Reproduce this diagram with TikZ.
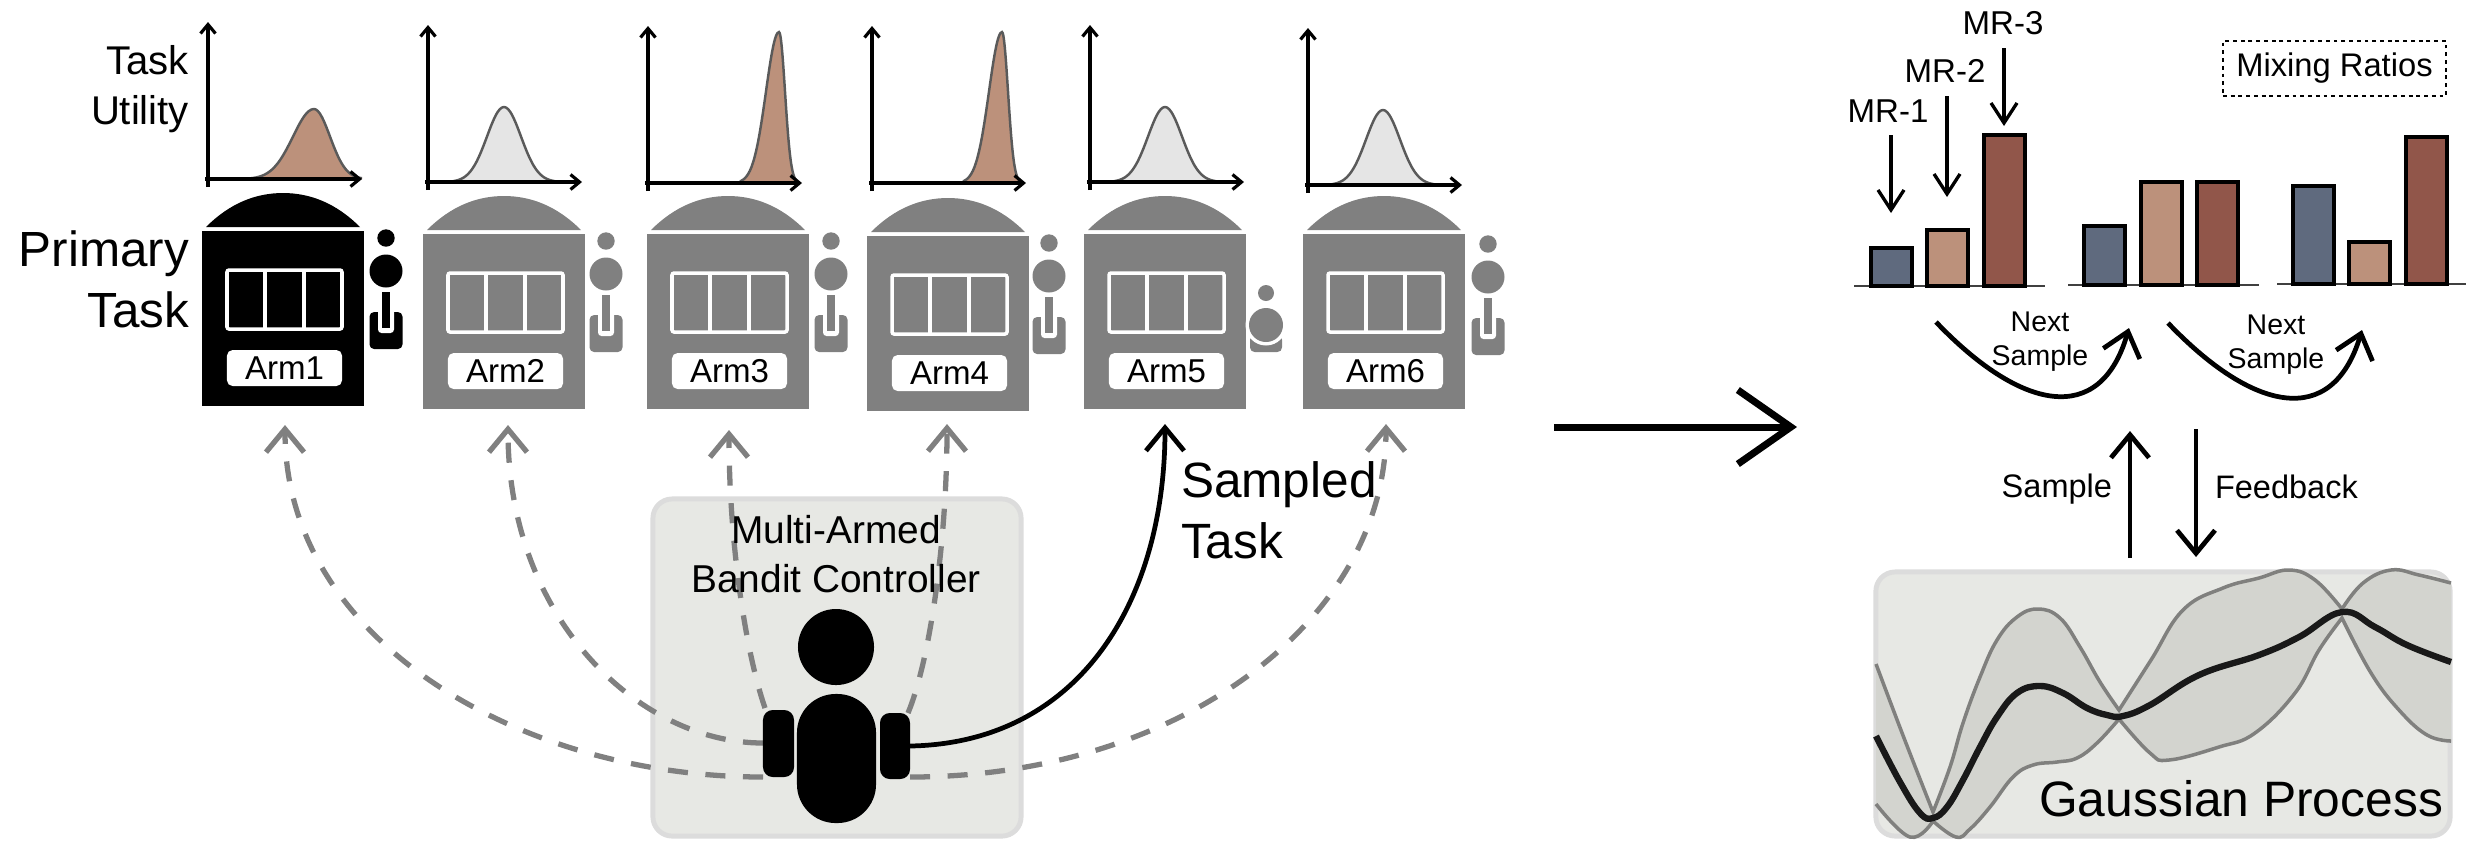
\documentclass[tikz,border=0pt]{standalone}
\usepackage{fontspec}
\setmainfont{Liberation Sans}
\usetikzlibrary{arrows.meta,positioning,calc,shapes.geometric}
\definecolor{armgray}{RGB}{128,128,128}
\definecolor{linkgray}{RGB}{128,128,128}
\definecolor{bellbrown}{RGB}{188,145,123}
\definecolor{bellgray}{RGB}{229,229,229}
\definecolor{belledge}{RGB}{90,90,90}
\definecolor{panelfill}{RGB}{231,232,228}
\definecolor{paneledge}{RGB}{220,220,220}
\definecolor{gpband}{RGB}{211,212,207}
\definecolor{gpedge}{RGB}{128,128,126}
\definecolor{mrblue}{RGB}{95,106,126}
\definecolor{mrtan}{RGB}{188,145,123}
\definecolor{mrbrown}{RGB}{145,86,74}
\tikzset{
  text label/.style={inner sep=0pt, outer sep=0pt},
  arm label/.style={
    fill=white, rounded corners=1.6pt, inner sep=0pt,
    minimum width=1.15cm, minimum height=0.36cm,
    font=\fontsize{9.4}{11}\selectfont,
  },
  arm body/.style={
    rectangle, inner sep=0pt, outer sep=0pt, anchor=north west,
    minimum width=1.62cm, minimum height=1.75cm,
  },
  panel box/.style={
    draw=paneledge, fill=panelfill, line width=1.4pt,
    rounded corners=5.5pt, inner sep=0pt, outer sep=0pt,
  },
  person part/.style={
    fill=black, inner sep=0pt, outer sep=0pt,
  },
  open arrow/.style={
    -{Straight Barb[length=0.23cm,width=0.38cm]},
    line width=1.35pt,
  },
  axis arrow/.style={
    -{Straight Barb[length=0.09cm,width=0.15cm]},
    line width=0.9pt,
  },
  thin arrow/.style={
    -{Straight Barb[length=0.2cm,width=0.26cm]},
    line width=0.95pt,
  },
  link arrow/.style={
    open arrow, draw=linkgray, line width=1.5pt, dash pattern=on 5.7pt off 5pt,
  },
  gp curve/.style={smooth, tension=0.7},
}
% GP envelope, split at the pinch points
\newcommand{\gpupper}{
  plot[gp curve] coordinates {(1876,664) (1904,738) (1933,812)}
  -- plot[gp curve] coordinates {(1933,812) (1950,767) (1963,723) (1980,677) (1997,640) (2017,617) (2038,609) (2060,618) (2080,647) (2100,682) (2119,710)}
  -- plot[gp curve] coordinates {(2119,710) (2151,660) (2183,610) (2223,588) (2259,578) (2289,570) (2315,580) (2342,609)}
  -- plot[gp curve] coordinates {(2342,609) (2363,583) (2391,570) (2419,575) (2451,583)}
}
\newcommand{\gplower}{
  plot[gp curve] coordinates {(1876,804) (1910,837) (1933,821)}
  -- plot[gp curve] coordinates {(1933,821) (1956,837) (1970,829) (1990,807) (2013,777) (2033,765) (2057,762) (2077,758) (2097,743) (2119,719)}
  -- plot[gp curve] coordinates {(2119,719) (2150,753) (2169,760) (2219,747) (2255,733) (2295,693) (2319,650) (2342,618)}
  -- plot[gp curve] coordinates {(2342,618) (2371,673) (2399,710) (2427,735) (2451,741)}
}
\begin{document}
\begin{tikzpicture}[x=0.01cm,y=-0.01cm]
  \useasboundingbox (0,0) rectangle (2466,856);

  % Utility plots
  \foreach \px/\py/\peakx/\peakh/\sigl/\sigr/\col in {
    208/179/106/70/21/16/bellbrown,
    428/182/76/75/17/17/bellgray,
    648/183/131/151/13/6/bellbrown,
    872/183/130/151/13/6/bellbrown,
    1090/182/75/75/17/17/bellgray,
    1308/185/75/75/17/17/bellgray}{
    \begin{scope}[shift={(\px,\py)}]
      \fill[\col] (\peakx-3*\sigl,0)
        -- plot[domain=-3*\sigl:0,samples=25,smooth,variable=\t] ({\peakx+\t},{-\peakh*exp(-\t*\t/(2*\sigl*\sigl))})
        -- plot[domain=0:3*\sigr,samples=25,smooth,variable=\t] ({\peakx+\t},{-\peakh*exp(-\t*\t/(2*\sigr*\sigr))})
        -- (\peakx+3*\sigr,0) -- cycle;
      \draw[belledge, line width=0.7pt] plot[domain=-3*\sigl:0,samples=25,smooth,variable=\t] ({\peakx+\t},{-\peakh*exp(-\t*\t/(2*\sigl*\sigl))})
        -- plot[domain=0:3*\sigr,samples=25,smooth,variable=\t] ({\peakx+\t},{-\peakh*exp(-\t*\t/(2*\sigr*\sigr))});
      \draw[axis arrow] (0,8) -- (0,-157);
      \draw[axis arrow] (-3,0) -- (154,0);
    \end{scope}
  }
  \node[text label, anchor=base east, align=right, font=\fontsize{11.4}{13.94}\selectfont] (utilitylabel) at (189,124) {Task\\Utility};

  % Slot machines
  \foreach \n/\bx/\by/\col in {
    1/202/231/black,
    2/423/234/armgray,
    3/647/234/armgray,
    4/867/236/armgray,
    5/1084/234/armgray,
    6/1303/234/armgray}{
    \begin{scope}[shift={(\bx,\by)}]
      \fill[\col] (4,-4) .. controls (28,-28) and (54,-38) .. (81,-38)
        .. controls (108,-38) and (134,-28) .. (158,-4) -- cycle;
      \node[arm body, fill=\col] (body\n) at (0,0) {};
      \draw[white, line width=1pt, rounded corners=0.6pt] (25,39) rectangle (140,98);
      \draw[white, line width=1pt] (63,39) -- (63,98);
      \draw[white, line width=1pt] (102,39) -- (102,98);
      \node[arm label] (label\n) at (82.5,137) {Arm\n};
    \end{scope}
  }
  \foreach \lx/\ly/\col in {
    386/231/black,
    606/234/armgray,
    831/234/armgray,
    1049/236/armgray,
    1488/237/armgray}{
    \begin{scope}[shift={(\lx,\ly)}]
      \fill[\col] (0,7) circle (8.7);
      \fill[\col] (0,40) circle (16.5);
      \fill[\col, rounded corners=1.3pt] (-16.5,81) rectangle (16.5,118);
      \fill[white, rounded corners=1pt] (-8,70) rectangle (8,102);
      \fill[\col] (-4,61) rectangle (4,97);
    \end{scope}
  }
  % Lever of Arm5 is pulled down
  \fill[armgray, rounded corners=1.3pt] (1250,335) rectangle (1282,352);
  \fill[white] (1266,325) circle (20.5);
  \fill[armgray] (1266,293) circle (8);
  \fill[armgray] (1266,325) circle (17);
  \node[text label, anchor=base east, align=right, font=\fontsize{14.05}{17.07}\selectfont] (primarylabel) at (189,327) {Primary\\Task};

  % Controller
  \node[panel box, minimum width=3.68cm, minimum height=3.37cm] (controller) at (837,667.5) {};
  \node[person part, ellipse, minimum width=0.76cm, minimum height=0.76cm] (head) at (836,647) {};
  \node[person part, rounded corners=11pt, minimum width=0.79cm, minimum height=1.29cm] (torso) at (836.5,758.5) {};

  \coordinate (tip1) at (285,425);
  \coordinate (tip2) at (508,425);
  \coordinate (tip3) at (729,430);
  \coordinate (tip4) at (947,424);
  \coordinate (tip5) at (1165,424);
  \coordinate (tip6) at (1386,424);
  \coordinate (handLa) at (763,777);
  \coordinate (handLb) at (763,743);
  \coordinate (handLc) at (765,708);
  \coordinate (handRa) at (908,713);
  \coordinate (handRb) at (910,777);
  \draw[link arrow] (handLa) .. controls (520,777) and (285,640) .. (tip1);
  \draw[link arrow] (handLb) .. controls (640,743) and (508,620) .. (tip2);
  \draw[link arrow] (handLc) .. controls (745,650) and (729,540) .. (tip3);
  \draw[link arrow] (handRa) .. controls (930,660) and (947,540) .. (tip4);
  \draw[link arrow] (handRb) .. controls (1180,777) and (1386,620) .. (tip6);
  \node[person part, rounded corners=2.8pt, minimum width=0.31cm, minimum height=0.67cm] (handL) at (778.5,743.5) {};
  \node[person part, rounded corners=2.8pt, minimum width=0.30cm, minimum height=0.66cm] (handR) at (895,746) {};
  \draw[open arrow] (handR.east) .. controls (1080,743) and (1165,600) .. (tip5);
  \node[text label, anchor=base, align=center, font=\fontsize{11.05}{13.66}\selectfont] (controllerlabel) at (836,592) {Multi-Armed\\Bandit Controller};
  \node[text label, anchor=base west, align=left, font=\fontsize{14.1}{17.35}\selectfont] (sampledlabel) at (1181,558) {Sampled\\Task};

  % Hand-over arrow
  \coordinate (handfrom) at (1554,427);
  \coordinate (handto) at (1797,427);
  \draw[-{Straight Barb[length=0.53cm,width=0.74cm]}, line width=2pt] (handfrom) -- (handto);

  % Mixing ratios
  \node[draw, line width=0.4pt, dash pattern=on 1.1pt off 1.1pt, minimum width=2.23cm, minimum height=0.55cm, inner sep=0pt, font=\fontsize{9.3}{11}\selectfont] (mixbox) at (2334.5,68.5) {Mixing Ratios};
  \foreach \lx/\lxb/\base/\ya/\yb/\yc/\xa/\xb/\xc in {
    1854/2045/286/248/230/135/1871/1927/1984,
    2068/2259/285/226/182/182/2084/2141/2197,
    2277/2466/284/186/242/137/2293/2349/2406}{
    \draw[black!75, line width=0.6pt] (\lx,\base) -- (\lxb,\base);
    \draw[fill=mrblue, line width=1pt] (\xa,\base) rectangle ++(41,\ya-\base);
    \draw[fill=mrtan, line width=1pt] (\xb,\base) rectangle ++(41,\yb-\base);
    \draw[fill=mrbrown, line width=1pt] (\xc,\base) rectangle ++(41,\yc-\base);
  }
  \foreach \n/\tx/\ty/\ax/\ya/\yb in {
    1/1888/122/1891/135/213,
    2/1945/82/1947/96/197,
    3/2003/34/2004/48/126}{
    \node[text label, anchor=base, font=\fontsize{9.4}{11}\selectfont] (mrlabel\n) at (\tx,\ty) {MR-\n};
    \coordinate (mrfrom\n) at (\ax,\ya);
    \coordinate (mrto\n) at (\ax,\yb);
    \draw[thin arrow] (mrfrom\n) -- (mrto\n);
  }
  % Next sample arrows
  \foreach \n/\sx/\sy/\ex/\ey/\ax/\ay/\bx/\by/\tx/\ty in {
    1/1936/322/2129/328/2020/410/2100/428/2040/365,
    2/2168/323/2362/330/2252/411/2332/430/2276/368}{
    \coordinate (nextfrom\n) at (\sx,\sy);
    \coordinate (nextto\n) at (\ex,\ey);
    \draw[open arrow] (nextfrom\n) .. controls (\ax,\ay) and (\bx,\by) .. (nextto\n);
    \node[text label, anchor=base, align=center, font=\fontsize{8.1}{9.4}\selectfont] (nextlabel\n) at (\tx,\ty) {Next\\Sample};
  }

  % Gaussian process
  \node[panel box, minimum width=5.74cm, minimum height=2.64cm] (gpbox) at (2163,704) {};
  \begin{scope}
    \clip \gpupper -- (2452,838) -- (1876,838) -- cycle;
    \fill[gpband] \gplower -- (2452,570) -- (1876,570) -- cycle;
  \end{scope}
  \draw[gpedge, line width=1pt] \gpupper;
  \draw[gpedge, line width=1pt] \gplower;
  \draw[black!90, line width=1.8pt] plot[gp curve] coordinates {(1876,736) (1900,782) (1920,813) (1933,818) (1947,807) (1963,780) (1980,747) (1997,717) (2017,693) (2040,686) (2063,693) (2087,708) (2107,715) (2123,716) (2150,705) (2199,675) (2259,655) (2299,637) (2342,612) (2375,627) (2407,645) (2451,662)};
  \node[text label, anchor=base east, font=\fontsize{14.15}{17}\selectfont] (gplabel) at (2443,816) {Gaussian Process};

  \coordinate (samplefrom) at (2130,558);
  \coordinate (sampleto) at (2130,431);
  \coordinate (feedbackfrom) at (2196,429);
  \coordinate (feedbackto) at (2196,557);
  \draw[open arrow] (samplefrom) -- (sampleto);
  \draw[open arrow] (feedbackfrom) -- (feedbackto);
  \node[text label, anchor=base east, font=\fontsize{9.25}{10}\selectfont] (samplelabel) at (2112,497) {Sample};
  \node[text label, anchor=base west, font=\fontsize{9.25}{10}\selectfont] (feedbacklabel) at (2215,498) {Feedback};
\end{tikzpicture}
\end{document}
